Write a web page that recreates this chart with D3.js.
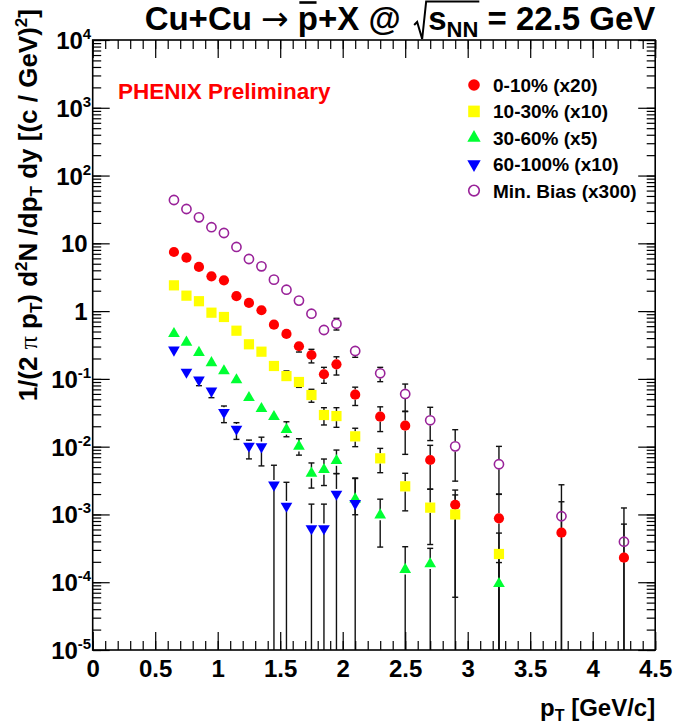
<!DOCTYPE html>
<html>
<head>
<meta charset="utf-8">
<script src="https://cdn.jsdelivr.net/npm/d3@7"></script>
<style>
  body { margin: 0; background: #fff; }
  svg { display: block; }
  text { font-family: "Liberation Sans", Arial, Helvetica, sans-serif; font-weight: bold; fill: #000; }
</style>
</head>
<body>
<div id="chart"></div>
<script>
// Data (pT bins in GeV/c, yields already scaled as in the legend)
const PT = [0.65, 0.75, 0.85, 0.95, 1.05, 1.15, 1.25, 1.35, 1.45, 1.55, 1.65, 1.75, 1.85, 1.95, 2.1, 2.3, 2.5, 2.7, 2.9, 3.25, 3.75, 4.25];

const VAL_0_10 = [7.45, 6.14, 4.48, 3.26, 2.85, 1.66, 1.32, 1.03, 0.63, 0.46, 0.303, 0.225, 0.117, 0.164, 0.0585, 0.0277, 0.0204, 0.00636, 0.00139, 0.000877, 0.000538, 0.00023];
const UP_0_10  = [0.3, 0.25, 0.2, 0.15, 0.13, 0.08, 0.07, 0.06, 0.04, 0.06, 0.05, 0.048, 0.031, 0.048, 0.017, 0.011, 0.013, 0.0041, 0.0009, 0.0011, 0.001, 0.00049];
const DN_0_10  = [0.3, 0.25, 0.2, 0.15, 0.13, 0.08, 0.07, 0.06, 0.04, 0.07, 0.054, 0.053, 0.031, 0.05, 0.018, 0.011, 0.0127, 0.004, 0.00133, 0.000877, 0.000538, 0.00023];

const VAL_10_30 = [2.40, 1.69, 1.40, 0.948, 0.819, 0.514, 0.324, 0.252, 0.155, 0.110, 0.090, 0.0578, 0.0293, 0.0283, 0.0142, 0.00673, 0.0026, 0.00126, 0.00100, 0.000261, null, null];
const UP_10_30  = [0.08, 0.06, 0.05, 0.035, 0.03, 0.02, 0.013, 0.011, 0.008, 0.021, 0.012, 0.0124, 0.0083, 0.0093, 0.0045, 0.0027, 0.00145, 0.0011, 0.00094, 0.00027, null, null];
const DN_10_30  = [0.08, 0.06, 0.05, 0.035, 0.03, 0.02, 0.013, 0.011, 0.008, 0.017, 0.015, 0.0126, 0.0084, 0.009, 0.0042, 0.0026, 0.00147, 0.0009, 0.001, 0.000261, null, null];

const VAL_30_60 = [0.464, 0.347, 0.244, 0.173, 0.131, 0.0964, 0.0528, 0.0363, 0.0277, 0.0179, 0.0101, 0.00405, 0.00457, 0.00621, 0.00169, 0.00098, 0.000154, 0.000186, null, 0.000095, null, null];
const UP_30_60  = [0.015, 0.012, 0.009, 0.007, 0.006, 0.005, 0.003, 0.0025, 0.005, 0.0054, 0.003, 0.0017, 0.002, 0.0027, 0.0017, 0.0007, 0.00018, 0.00013, null, 0.0001, null, null];
const DN_30_60  = [0.015, 0.012, 0.009, 0.007, 0.006, 0.005, 0.003, 0.0025, 0.0044, 0.0039, 0.0026, 0.0016, 0.0019, 0.0022, 0.0007, 0.00065, 0.000154, 0.000186, null, 0.000095, null, null];

const VAL_60_100 = [0.267, 0.126, 0.0964, 0.0663, 0.0321, 0.0182, 0.0102, 0.0100, 0.00272, 0.00133, null, 0.00062, 0.00062, 0.0020, 0.00145, null, null, null, null, null, null, null];
const UP_60_100  = [0.02, 0.015, 0.008, 0.01, 0.0077, 0.0044, 0.0023, 0.0038, 0.0026, 0.00165, null, 0.0008, 0.0008, 0.002, 0.002, null, null, null, null, null, null, null];
const DN_60_100  = [0.03, 0.02, 0.017, 0.0135, 0.0095, 0.0054, 0.0036, 0.0048, 0.00272, 0.00133, null, 0.00062, 0.00062, 0.002, 0.00145, null, null, null, null, null, null, null];

const VAL_MB = [43.6, 32.1, 24.2, 17.3, 14.2, 8.84, 5.87, 4.58, 2.91, 2.07, 1.43, 0.916, 0.526, 0.652, 0.258, 0.121, 0.0599, 0.0245, 0.0101, 0.0055, 0.00094, 0.000396];
const UP_MB  = [1.5, 1.1, 0.9, 0.7, 0.6, 0.4, 0.3, 0.25, 0.2, 0.15, 0.12, 0.09, 0.084, 0.13, 0.04, 0.027, 0.024, 0.0136, 0.0077, 0.0046, 0.0018, 0.00085];
const DN_MB  = [1.5, 1.1, 0.9, 0.7, 0.6, 0.4, 0.3, 0.25, 0.2, 0.15, 0.12, 0.09, 0.081, 0.126, 0.05, 0.03, 0.027, 0.0122, 0.007, 0.0035, 0.00094, 0.000396];

const LEGEND_LABELS = ["0-10% (x20)", "10-30% (x10)", "30-60% (x5)", "60-100% (x10)", "Min. Bias (x300)"];
const X_TICKS = [0, 0.5, 1, 1.5, 2, 2.5, 3, 3.5, 4, 4.5];
const X_LABELS = ["0", "0.5", "1", "1.5", "2", "2.5", "3", "3.5", "4", "4.5"];
const Y_EXPONENTS = [-5, -4, -3, -2, -1, 0, 1, 2, 3, 4];

// Styles
const SERIES = [
  { label: LEGEND_LABELS[0], val: VAL_0_10,   up: UP_0_10,   dn: DN_0_10,   color: "#ff0000", shape: "circle" },
  { label: LEGEND_LABELS[1], val: VAL_10_30,  up: UP_10_30,  dn: DN_10_30,  color: "#ffff00", shape: "square" },
  { label: LEGEND_LABELS[2], val: VAL_30_60,  up: UP_30_60,  dn: DN_30_60,  color: "#00ff33", shape: "up" },
  { label: LEGEND_LABELS[3], val: VAL_60_100, up: UP_60_100, dn: DN_60_100, color: "#0000ff", shape: "down" },
  { label: LEGEND_LABELS[4], val: VAL_MB,     up: UP_MB,     dn: DN_MB,     color: "#992299", shape: "open" }
];

const W = 674, H = 728;
const margin = { top: 40, right: 18.8, bottom: 78, left: 92.7 };
const x = d3.scaleLinear().domain([0, 4.5]).range([margin.left, W - margin.right]);
const y = d3.scaleLog().domain([1e-5, 1e4]).range([H - margin.bottom, margin.top]);
const yMin = 1e-5, yMax = 1e4;

const svg = d3.select("#chart").append("svg").attr("width", W).attr("height", H);

function drawMarker(g, shape, color, cx, cy, r) {
  if (shape === "circle") {
    g.append("circle").attr("cx", cx).attr("cy", cy).attr("r", r).attr("fill", color);
  } else if (shape === "open") {
    g.append("circle").attr("cx", cx).attr("cy", cy).attr("r", r - 0.5)
      .attr("fill", "none").attr("stroke", color).attr("stroke-width", 1.6);
  } else if (shape === "square") {
    g.append("rect").attr("x", cx - r).attr("y", cy - r).attr("width", 2 * r).attr("height", 2 * r).attr("fill", color);
  } else {
    const s = 2.3 * r;
    const tri = d3.symbol().type(d3.symbolTriangle).size(Math.sqrt(3) / 4 * s * s);
    g.append("path").attr("d", tri())
      .attr("transform", `translate(${cx},${cy})${shape === "down" ? " rotate(180)" : ""}`)
      .attr("fill", color);
  }
}

// Error bars
const R = 5.1;
const bars = svg.append("g").attr("stroke", "#111").attr("stroke-width", 1.4);
SERIES.forEach(s => {
  PT.forEach((pt, i) => {
    const v = s.val[i];
    if (v == null) return;
    const cx = x(pt), cy = y(v);
    const hi = Math.min(v + s.up[i], yMax);
    const lo = v - s.dn[i];
    const yHi = y(hi);
    const loClipped = lo <= yMin * 1.0001;
    const yLo = loClipped ? y(yMin) : y(lo);
    if (yHi < cy - R) {
      bars.append("line").attr("x1", cx).attr("x2", cx).attr("y1", cy - R).attr("y2", yHi);
      bars.append("line").attr("x1", cx - 3).attr("x2", cx + 3).attr("y1", yHi).attr("y2", yHi);
    }
    if (yLo > cy + R) {
      bars.append("line").attr("x1", cx).attr("x2", cx).attr("y1", cy + R).attr("y2", yLo);
      if (!loClipped) bars.append("line").attr("x1", cx - 3).attr("x2", cx + 3).attr("y1", yLo).attr("y2", yLo);
    }
  });
});

// Markers
const marks = svg.append("g");
SERIES.forEach(s => {
  PT.forEach((pt, i) => {
    if (s.val[i] == null) return;
    drawMarker(marks, s.shape, s.color, x(pt), y(s.val[i]), R);
  });
});

// Frame and ticks (ROOT style, inward on all four sides)
const y0 = H - margin.bottom, y1 = margin.top, x0 = margin.left, x1 = W - margin.right;
const axG = svg.append("g");
function tickAxis(axis, tx, ty) {
  const g = axG.append("g").attr("transform", `translate(${tx},${ty})`).call(axis);
  g.select(".domain").remove();
  g.selectAll("text").remove();
  g.selectAll("line").attr("stroke", "#000").attr("stroke-width", 1.2);
  return g;
}
const xMinor = x.ticks(45);
const yMinor = y.ticks();
const yMajor = Y_EXPONENTS.map(e => Math.pow(10, e));
tickAxis(d3.axisBottom(x).tickValues(X_TICKS).tickSize(-18), 0, y0);
tickAxis(d3.axisBottom(x).tickValues(xMinor).tickSize(-9), 0, y0);
tickAxis(d3.axisTop(x).tickValues(X_TICKS).tickSize(-18), 0, y1);
tickAxis(d3.axisTop(x).tickValues(xMinor).tickSize(-9), 0, y1);
tickAxis(d3.axisLeft(y).tickValues(yMajor).tickSize(-17), x0, 0);
tickAxis(d3.axisLeft(y).tickValues(yMinor).tickSize(-8.5), x0, 0);
tickAxis(d3.axisRight(y).tickValues(yMajor).tickSize(-17), x1, 0);
tickAxis(d3.axisRight(y).tickValues(yMinor).tickSize(-8.5), x1, 0);

svg.append("rect").attr("x", x0).attr("y", y1).attr("width", x1 - x0).attr("height", y0 - y1)
  .attr("fill", "none").attr("stroke", "#000").attr("stroke-width", 1.6);

// X tick labels
const xLab = axG.append("g").attr("transform", `translate(0,${y0})`)
  .call(d3.axisBottom(x).tickValues(X_TICKS).tickSize(0).tickPadding(10).tickFormat((d, i) => X_LABELS[i]));
xLab.select(".domain").remove();
xLab.selectAll("text").style("font-size", "24px").attr("font-family", null).attr("fill", "#000");

// Y tick labels with superscripts
const yLab = axG.append("g").attr("transform", `translate(${x0},0)`)
  .call(d3.axisLeft(y).tickValues(yMajor).tickSize(0).tickFormat(""));
yLab.select(".domain").remove();
yLab.selectAll(".tick").each(function (d, i) {
  const e = Y_EXPONENTS[i];
  const t = d3.select(this).select("text").attr("dy", null).attr("y", 8.5).attr("fill", "#000")
    .attr("text-anchor", "end").style("font-size", "24px").attr("font-family", null);
  if (e === 0) { t.attr("x", -5).text("1"); return; }
  if (e === 1) { t.attr("x", -5).text("10"); return; }
  t.attr("x", -1.5);
  t.append("tspan").text("10");
  t.append("tspan").attr("dy", -10).style("font-size", "15px").text(String(e));
});

// Axis titles
const xt = svg.append("text").attr("x", x1).attr("y", 716).attr("text-anchor", "end").style("font-size", "24px");
xt.append("tspan").text("p");
xt.append("tspan").attr("dy", 5).style("font-size", "16px").text("T");
xt.append("tspan").attr("dy", -5).text(" [GeV/c]");

const yt = svg.append("text").attr("transform", "translate(37,9) rotate(-90)")
  .attr("text-anchor", "end").style("font-size", "26px");
yt.append("tspan").text("1/(2 ");
yt.append("tspan").style("font-weight", "normal").style("font-family", "'Liberation Serif', serif").text("\u03c0");
yt.append("tspan").text(" p");
yt.append("tspan").attr("dy", 5).style("font-size", "17px").text("T");
yt.append("tspan").attr("dy", -5).text(") d");
yt.append("tspan").attr("dy", -10).style("font-size", "17px").text("2");
yt.append("tspan").attr("dy", 10).text("N /dp");
yt.append("tspan").attr("dy", 5).style("font-size", "17px").text("T");
yt.append("tspan").attr("dy", -5).text(" dy [(c / GeV)");
yt.append("tspan").attr("dy", -10).style("font-size", "17px").text("2");
yt.append("tspan").attr("dy", 10).text("]");

// Title
const title = svg.append("text").attr("x", 400).attr("y", 30).attr("text-anchor", "middle")
  .style("font-size", "33px").style("white-space", "pre");
title.append("tspan").text("Cu+Cu ");
title.append("tspan").style("font-weight", "normal").style("font-family", "'DejaVu Sans', sans-serif").text("\u2192");
title.append("tspan").text(" p+X @   s");
title.append("tspan").attr("dy", 7).style("font-size", "22px").text("NN");
title.append("tspan").attr("dy", -7).text(" = 22.5 GeV");
const tn = title.node();
const full = tn.textContent;
const pIdx = full.indexOf("p+X");
const sIdx = full.indexOf("s", full.indexOf("@"));
const nIdx = full.indexOf("NN") + 1;
const pBox = tn.getExtentOfChar(pIdx);
svg.append("line").attr("x1", pBox.x + 1.5).attr("x2", pBox.x + pBox.width - 1.5)
  .attr("y1", 2.5).attr("y2", 2.5).attr("stroke", "#000").attr("stroke-width", 2.6);
const sBox = tn.getExtentOfChar(sIdx);
const nBox = tn.getExtentOfChar(nIdx);
const sx = sBox.x;
svg.append("path")
  .attr("d", `M${sx - 14},25 L${sx - 11},22 L${sx - 6},39 L${sx - 2},1.5 L${nBox.x + nBox.width + 1},1.5`)
  .attr("fill", "none").attr("stroke", "#000").attr("stroke-width", 2);

// PHENIX label
svg.append("text").attr("x", 118).attr("y", 99).style("font-size", "22.5px").style("fill", "#ff0000")
  .text("PHENIX Preliminary");

// Legend
const leg = svg.append("g");
SERIES.forEach((s, i) => {
  const cy = 85 + i * 26.4;
  drawMarker(leg, s.shape, s.color, 474, cy, 5.8);
  leg.append("text").attr("x", 493).attr("y", cy + 7).style("font-size", "19px").text(s.label);
});
</script>
</body>
</html>
